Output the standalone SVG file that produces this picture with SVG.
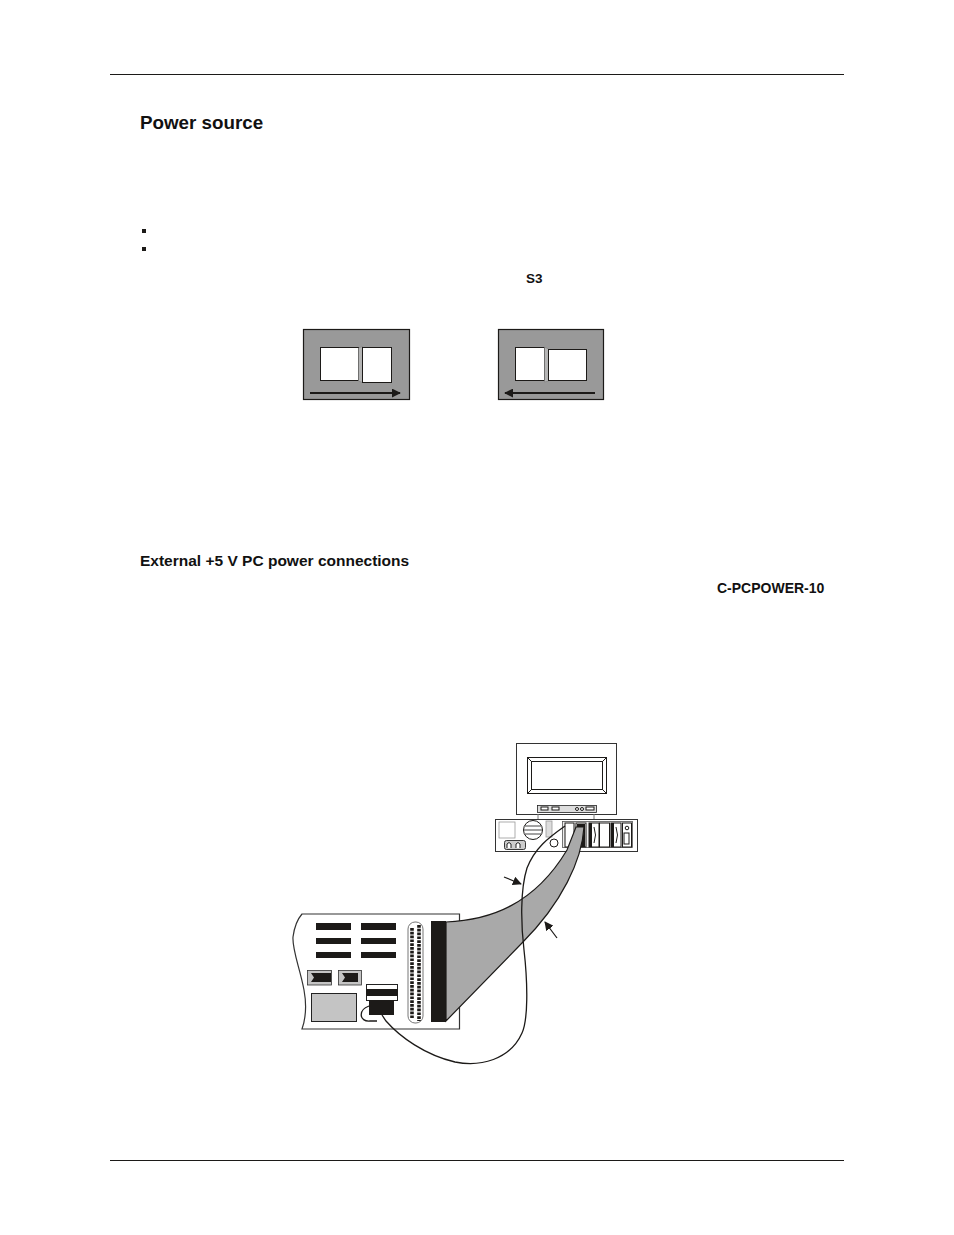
<svg xmlns="http://www.w3.org/2000/svg" width="954" height="1235" viewBox="0 0 954 1235">
<style>
text{font-family:"Liberation Sans",Arial,sans-serif;font-weight:bold;fill:#111}
.k{fill:#1c1a18;stroke:none}
.w{fill:#fff;stroke:#1c1a18;stroke-width:1}
.g{fill:#999;stroke:#1c1a18;stroke-width:1.2}
.l{fill:none;stroke:#1c1a18;stroke-width:1}
.t{fill:none;stroke:#1c1a18;stroke-width:1.3}
</style>
<defs>
<marker id="ah" viewBox="0 0 10 10" refX="9" refY="5" markerWidth="9" markerHeight="9" markerUnits="userSpaceOnUse" orient="auto"><path d="M0 0L10 5L0 10z" fill="#1c1a18"/></marker>
</defs>
<rect width="954" height="1235" fill="#fff"/>
<g id="page-rules"><path class="l" d="M110 74.500H844M110 1160.500H844"/></g>
<text x="140" y="129" font-size="18.800">Power source</text>
<g id="bullets"><rect class="k" x="142" y="229" width="4" height="4"/><rect class="k" x="142" y="247" width="4" height="4"/></g>
<text x="526" y="283" font-size="13.500">S3</text>
<g id="switch-right">
<rect class="g" x="303.500" y="329.500" width="106" height="70"/>
<rect class="w" x="320.500" y="347.500" width="38" height="33"/>
<path d="M358.500 348L362.500 346.500V382.500L358.500 381z" fill="#b5b5b5" stroke="#777" stroke-width=".5"/>
<rect class="w" x="362.500" y="347.500" width="29" height="35"/>
<path d="M310 393H400" stroke="#1c1a18" stroke-width="1.800" marker-end="url(#ah)"/>
</g>
<g id="switch-left">
<rect class="g" x="498.500" y="329.500" width="105" height="70"/>
<rect class="w" x="515.500" y="347.500" width="29" height="33"/>
<path d="M544.500 347L548.500 349V381L544.500 382z" fill="#b5b5b5" stroke="#777" stroke-width=".5"/>
<rect class="w" x="548.500" y="349.500" width="38" height="31"/>
<path d="M595 393H505" stroke="#1c1a18" stroke-width="1.800" marker-end="url(#ah)"/>
</g>
<text x="140" y="566" font-size="15.500">External +5 V PC power connections</text>
<text x="717" y="593" font-size="14">C-PCPOWER-10</text>
<g id="pc">
<rect x="516.500" y="743.500" width="100" height="71" fill="#fff" stroke="#333" stroke-width="1"/>
<rect class="l" x="527.500" y="757.500" width="79" height="36"/>
<rect class="l" x="531.500" y="761.500" width="71" height="28" stroke-width="1"/>
<path class="l" d="M527.500 757.500L531.500 761.500M606.500 757.500L602.500 761.500M527.500 793.500L531.500 789.500M606.500 793.500L602.500 789.500"/>
<rect x="537.500" y="805.500" width="59" height="7" fill="#ddd" stroke="#222" stroke-width=".8"/>
<rect class="w" x="541" y="807" width="7" height="3" stroke-width=".8"/><rect class="w" x="552" y="807" width="7" height="3" stroke-width=".8"/>
<circle class="w" cx="577" cy="809" r="1.500" stroke-width=".7"/><circle class="w" cx="582" cy="809" r="1.500" stroke-width=".7"/>
<rect class="w" x="586" y="807" width="8" height="3" stroke-width=".8"/>
<path fill="none" stroke="#777" d="M538 814V819M594 814V819"/>
<rect x="495.500" y="819.500" width="142" height="32" fill="#fff" stroke="#333" stroke-width="1"/>
<rect x="499" y="822" width="16" height="16" fill="#fff" stroke="#999" stroke-width=".8"/>
<circle class="w" cx="533" cy="830" r="9.500"/>
<path d="M525 826H541M524 830H542M525 834H541" stroke="#444" stroke-width="1"/>
<rect x="546" y="821" width="6" height="16" fill="#ddd" stroke="#999" stroke-width=".8"/>
<circle class="w" cx="554" cy="843" r="4" stroke-width=".7"/>
<rect x="504.500" y="840.500" width="21" height="9" rx="2" fill="#ccc" stroke="#222" stroke-width=".9"/>
<path d="M507 848v-4q2-3 4-0v4M516 848v-4q2-3 4-0v4" fill="#fff" stroke="#222"/>
<rect x="562.500" y="821.500" width="70" height="26" fill="#eee" stroke="#555" stroke-width=".8"/>
<rect class="w" x="565" y="823" width="9" height="24" stroke-width=".7"/>
<rect class="w" x="576" y="823" width="10" height="24" stroke-width=".7"/>
<rect class="k" x="577" y="824" width="8" height="23"/>
<rect class="w" x="589" y="823" width="10" height="24" stroke-width=".7"/>
<rect class="k" x="589" y="823" width="3" height="24"/>
<path class="l" d="M594 827q3 8 0 16"/>
<rect class="w" x="599.500" y="823" width="10" height="24" stroke-width=".7"/>
<rect class="w" x="611" y="823" width="10" height="24" stroke-width=".7"/>
<rect class="k" x="611" y="823" width="3" height="24"/>
<path class="l" d="M616 827q3 8 0 16"/>
<rect class="w" x="622.500" y="823" width="9" height="24" stroke-width=".7"/>
<circle class="w" cx="627" cy="828" r="1.800" stroke-width=".7"/>
<rect class="w" x="624" y="833" width="5" height="11" stroke-width=".7"/>
</g>
<g id="board">
<path d="M302 914H459.500V1029H302Q308 1012 304 990C300 968 292 950 293 937Q295 922 302 914z" fill="#fff" stroke="#333" stroke-width="1.200"/>
<g class="k">
<rect x="316" y="923" width="35" height="7"/><rect x="361" y="923" width="35" height="7"/>
<rect x="316" y="938" width="35" height="6"/><rect x="361" y="938" width="35" height="6"/>
<rect x="316" y="952" width="35" height="6"/><rect x="361" y="952" width="35" height="6"/>
</g>
<rect x="307.500" y="970.500" width="24" height="14.500" fill="#c4c4c4" stroke="#333" stroke-width=".8"/>
<path class="k" d="M311 973H331V982H311L314 977.500z"/>
<rect x="338.500" y="970.500" width="23" height="14.500" fill="#c4c4c4" stroke="#333" stroke-width=".8"/>
<path class="k" d="M342 973H358V982H342L345 977.500z"/>
<rect x="311.500" y="993.500" width="45" height="28" fill="#c4c4c4" stroke="#222" stroke-width="1"/>
<rect x="366.500" y="984.500" width="31" height="16" fill="#fff" stroke="#222" stroke-width="1"/>
<rect class="k" x="366" y="989" width="32" height="7"/>
<rect class="k" x="369" y="1000" width="25" height="15"/>
<rect x="408" y="922" width="15" height="101" rx="7" fill="#fff" stroke="#777" stroke-width="1"/>
<path d="M412 928V1018" stroke="#1c1a18" stroke-width="3.600" stroke-dasharray="2.700 1.100" fill="none"/>
<path d="M419 925V1021" stroke="#1c1a18" stroke-width="3.600" stroke-dasharray="2.700 1.100" fill="none"/>
<rect class="k" x="431" y="921" width="15" height="101"/>
</g>
<g id="connectors">
<path d="M446 922C490 920 534 905 567 850L576 827L584 827C582 860 562 903 522 943L446 1021z" fill="#a9a9a9" stroke="#1c1a18" stroke-width="1.200"/>
<path class="t" d="M565 826C548 838 535 848 527 868C520 890 521 925 524 950C528 985 528 1020 522 1033C510 1060 480 1067 455 1062C425 1055 400 1037 386 1021L382 1015"/>
<path class="t" d="M369 1006C358 1010 359 1022 370 1021H377"/>
<path d="M504 877L521 884" stroke="#1c1a18" stroke-width="1.200" marker-end="url(#ah)"/>
<path d="M557 938L545 922" stroke="#1c1a18" stroke-width="1.200" marker-end="url(#ah)"/>
</g>
</svg>
